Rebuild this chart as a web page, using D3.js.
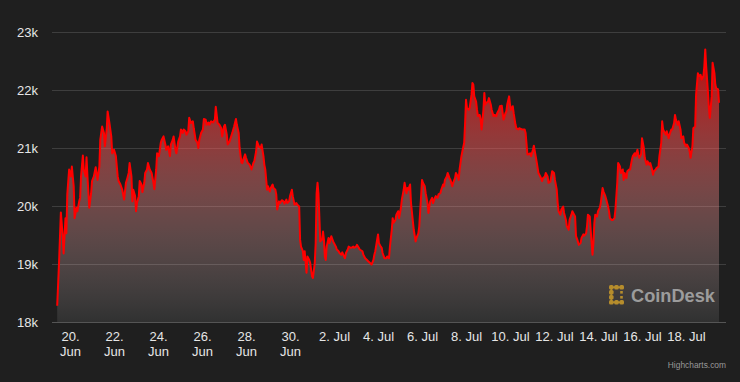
<!DOCTYPE html>
<html>
<head>
<meta charset="utf-8">
<script src="https://cdn.jsdelivr.net/npm/d3@7"></script>
<style>
  html, body { margin: 0; padding: 0; background: #1f1f1f; }
  svg { display: block; font-family: "Liberation Sans", Arial, sans-serif; }
</style>
</head>
<body>
<svg id="chart"></svg>
<script>
// hours after 20 Jun 2022 00:00 UTC
const hours = [-14,-12,-10,-8,-7,-5,-4,-3,-1,1,2,4,5,7,8,10,11,12,14,15,17,18,19,21,23,24,26,28,30,32,33,35,37,38,40,41,43,45,46,48,50,52,53,55,57,59,61,62,64,65,67,68,69,71,72,73,75,76,78,79,81,82,84,85,87,89,91,92,94,95,97,99,100,102,104,105,107,109,110,112,113,115,116,118,120,121,123,124,126,127,129,130,132,134,135,137,139,140,141,143,145,146,148,149,151,152,154,156,158,159,161,163,165,166,168,169,171,172,174,176,177,179,181,182,184,185,187,188,189,191,192,194,196,198,200,201,203,204,206,208,209,211,212,213,215,216,218,219,221,222,224,225,226,228,229,231,233,234,236,237,239,240,242,243,245,247,248,250,251,252,254,255,256,258,259,261,262,264,265,267,268,269,270,271,272,273,275,276,277,278,279,280,282,283,284,285,287,288,290,291,293,294,296,297,299,300,301,303,304,306,307,309,310,312,313,315,316,319,320,322,324,325,327,329,331,332,333,336,337,339,340,341,343,345,346,348,349,351,352,353,355,356,358,359,361,362,364,365,367,368,369,371,372,374,375,377,378,380,381,383,384,385,387,388,390,391,392,393,395,396,398,399,401,402,404,405,407,408,409,411,412,414,415,417,418,420,421,423,424,425,427,428,430,431,432,433,435,436,438,439,440,441,443,444,445,447,448,449,451,452,453,454,456,457,459,460,462,463,465,466,468,469,471,472,473,475,476,477,479,480,481,483,484,486,487,489,490,493,496,497,499,500,502,503,505,506,508,509,511,512,513,515,516,518,519,521,522,524,526,528,529,531,532,533,535,536,538,539,541,542,544,545,547,548,549,551,552,554,555,557,558,560,561,563,564,565,567,568,570,571,572,573,575,576,578,579,581,582,584,585,587,588,589,591,592,594,595,597,598,600,601,603,604,605,607,608,610,611,613,614,616,617,619,620,621,623,624,626,627,629,630,632,633,635,636,637,639,640,642,643,645,646,647,648,650,651,653,654,656,657,659,660,661,663,664,666,667,669,670,672,673,675,676,677,679,680,682,683,685,686,688,689,691,692,693,694,696,697,698,700,701,703,704,705,707,708];

// BTC price, USD
const prices = [18280,19020,19890,19480,19180,19790,19530,20200,20630,20510,20680,20340,19790,19970,19910,20080,20140,20510,20870,20630,20510,20840,20510,19970,20220,20430,20510,20670,20450,20680,21140,21370,21260,21030,21320,21630,21430,21200,20910,20970,20860,20510,20430,20370,20280,20110,20400,20450,20570,20740,20510,20080,20280,20170,19910,20050,20170,20430,20370,20240,20400,20570,20630,20740,20630,20570,20400,20290,20630,20910,20860,21090,21140,21200,21060,20970,21030,20860,21060,21140,21200,20970,20910,21110,21200,21320,21260,21320,21290,21230,21290,21520,21430,21460,21340,21140,21090,21000,21140,21260,21320,21500,21490,21400,21440,21400,21460,21440,21490,21710,21430,21400,21340,21200,21370,21400,21230,21060,21110,21210,21260,21370,21500,21400,21260,21000,20750,20740,20800,20890,20830,20740,20710,20630,20740,20770,20940,21110,21030,21000,21060,20860,20710,20630,20280,20340,20250,20310,20370,20310,20280,20200,19940,20080,20050,20100,20080,20040,20110,20050,20080,20170,20280,20170,20020,20050,20020,19990,19420,19300,19220,19070,19220,18850,19130,19070,19020,18790,18760,19020,19360,20220,20400,20220,19820,19390,19420,19560,19420,19130,19070,19300,19450,19360,19420,19480,19390,19360,19300,19250,19220,19190,19160,19200,19130,19100,19190,19250,19300,19280,19280,19300,19280,19300,19330,19280,19250,19220,19160,19100,19070,19050,19020,18990,19070,19160,19220,19510,19360,19300,19280,19190,19100,19100,19130,19100,19300,19590,19790,19710,19760,19850,19910,19790,19970,20110,20280,20400,20220,20310,20280,20370,20050,19740,19590,19390,19450,19530,19650,20170,20450,20400,20340,20220,20050,19880,19990,20080,20140,20050,20140,20170,20140,20200,20220,20280,20370,20340,20450,20510,20570,20480,20450,20340,20400,20480,20570,20510,20450,20630,20860,20940,21090,21430,21830,21690,21660,21690,21920,22120,22090,21890,21800,21660,21550,21570,21490,21320,21660,21950,21750,21780,21800,21860,21750,21660,21550,21570,21550,21600,21660,21720,21730,21600,21490,21600,21630,21750,21890,21750,21660,21720,21600,21400,21340,21320,21340,21320,21320,21260,20890,20890,20910,20860,20970,21040,20860,20770,20570,20540,20510,20430,20480,20510,20570,20510,20400,20420,20600,20570,20450,20280,20050,19910,19850,19940,19990,19880,19760,19650,19590,19760,19850,19910,19880,19820,19480,19390,19330,19360,19450,19510,19490,19530,19650,19850,19820,19590,19160,19360,19710,19850,19820,19910,19970,20050,20310,20250,20170,20110,19990,19910,19790,19760,19760,19790,19940,20400,20740,20680,20570,20630,20450,20570,20480,20600,20630,20630,20800,20860,20910,20860,20970,20890,20830,20890,21170,21000,20830,20710,20770,20710,20740,20630,20540,20600,20630,20660,20680,20860,21090,21460,21320,21290,21230,21290,21170,21230,21320,21320,21430,21570,21490,21400,21460,21320,21170,21200,21090,21030,21060,21000,20940,20830,21030,21340,21370,21920,22290,22240,22260,22180,22240,22410,22700,22410,21950,21690,21520,21890,22470,22290,22090,22030,22010,21780];

const tickDays = ["2022-06-20","2022-06-22","2022-06-24","2022-06-26","2022-06-28","2022-06-30",
                  "2022-07-02","2022-07-04","2022-07-06","2022-07-08","2022-07-10","2022-07-12",
                  "2022-07-14","2022-07-16","2022-07-18"];
const yTicks = [18000, 19000, 20000, 21000, 22000, 23000];

const width = 740, height = 382;
const plotLeft = 52, plotRight = 726, plotTop = 32, plotBottom = 322;

const baseTime = Date.UTC(2022, 5, 20);
const data = hours.map((h, i) => ({ date: new Date(baseTime + h * 3600e3), value: prices[i] }));

const svg = d3.select("#chart").attr("width", width).attr("height", height);

svg.append("rect").attr("width", width).attr("height", height).attr("fill", "#1f1f1f");

const x = d3.scaleUtc()
  .domain(d3.extent(data, d => d.date))
  .range([57.2, 719]);

const y = d3.scaleLinear()
  .domain([18000, 23000])
  .range([plotBottom, plotTop]);

// y axis + grid
const yAxis = svg.append("g")
  .attr("transform", `translate(${plotLeft},0)`)
  .call(d3.axisLeft(y)
    .tickValues(yTicks)
    .tickSize(-(plotRight - plotLeft))
    .tickPadding(14)
    .tickFormat(d => d / 1000 + "k"));
yAxis.select(".domain").remove();
yAxis.selectAll(".tick line").attr("stroke", "#3e3e3e").attr("stroke-width", 1);
yAxis.selectAll(".tick text")
  .attr("fill", "#e6e6e6")
  .attr("font-size", 13)
  .attr("font-family", "Liberation Sans, Arial, sans-serif");

// gradient for the area
const defs = svg.append("defs");
const grad = defs.append("linearGradient")
  .attr("id", "areaFill")
  .attr("x1", 0).attr("y1", 0).attr("x2", 0).attr("y2", 1);
grad.append("stop").attr("offset", "0%").attr("stop-color", "rgb(255,0,0)").attr("stop-opacity", 0.72);
grad.append("stop").attr("offset", "100%").attr("stop-color", "rgb(255,255,255)").attr("stop-opacity", 0.08);

const area = d3.area()
  .x(d => x(d.date))
  .y0(y(18000))
  .y1(d => y(d.value));

const line = d3.line()
  .x(d => x(d.date))
  .y(d => y(d.value));

svg.append("path")
  .datum(data)
  .attr("d", area)
  .attr("fill", "url(#areaFill)");

svg.append("path")
  .datum(data)
  .attr("d", line)
  .attr("fill", "none")
  .attr("stroke", "#ff0000")
  .attr("stroke-width", 2)
  .attr("stroke-linejoin", "round");

// x axis
svg.append("line")
  .attr("x1", plotLeft).attr("x2", plotRight)
  .attr("y1", plotBottom + 0.5).attr("y2", plotBottom + 0.5)
  .attr("stroke", "#555");

const fmtDay = d3.utcFormat("%-d.");
const fmtMon = d3.utcFormat("%b");

const xAxis = svg.append("g")
  .attr("transform", `translate(0,${plotBottom})`)
  .call(d3.axisBottom(x)
    .tickValues(tickDays.map(s => new Date(s + "T00:00:00Z")))
    .tickSize(0)
    .tickFormat(d => fmtDay(d) + " " + fmtMon(d)));
xAxis.select(".domain").remove();
xAxis.selectAll(".tick text")
  .attr("fill", "#e6e6e6")
  .attr("font-size", 13)
  .attr("font-family", "Liberation Sans, Arial, sans-serif")
  .attr("dy", null)
  .attr("y", 19)
  .each(function(d) {
    const t = d3.select(this);
    if (d.getUTCMonth() === 5) {
      t.text(null);
      t.append("tspan").attr("x", 0).attr("y", 19).text(fmtDay(d));
      t.append("tspan").attr("x", 0).attr("y", 34).text(fmtMon(d));
    }
  });

// logo
const logo = svg.append("g").attr("transform", "translate(609,285)");
const gold = "#b68d2c";
const cells = [[0,0],[1,0],[2,0],[0,1],[0,2],[0,3],[1,3],[2,3]];
logo.selectAll("rect.c")
  .data(cells)
  .join("rect")
  .attr("class", "c")
  .attr("x", d => d[0] * 5.2)
  .attr("y", d => d[1] * 5)
  .attr("width", 4.6).attr("height", 4.6)
  .attr("rx", 1.6)
  .attr("fill", gold);
logo.append("rect").attr("x", 1.5).attr("y", 1.5).attr("width", 10.4).attr("height", 1.6).attr("fill", gold);
logo.append("rect").attr("x", 1.5).attr("y", 16.5).attr("width", 10.4).attr("height", 1.6).attr("fill", gold);
logo.append("rect").attr("x", 1.5).attr("y", 1.5).attr("width", 1.6).attr("height", 16).attr("fill", gold);
logo.selectAll("rect.s")
  .data([1, 2])
  .join("rect")
  .attr("class", "s")
  .attr("x", 11.2).attr("y", d => d * 5 + 1)
  .attr("width", 2.6).attr("height", 2.6)
  .attr("fill", gold);

svg.append("text")
  .attr("x", 631).attr("y", 301.7)
  .attr("font-size", 18.2)
  .attr("font-weight", "bold")
  .attr("fill", "#9c9c9c")
  .text("CoinDesk");

// credits
svg.append("text")
  .attr("x", 726).attr("y", 367.5)
  .attr("text-anchor", "end")
  .attr("font-size", 8.4)
  .attr("fill", "#999")
  .text("Highcharts.com");
</script>
</body>
</html>
